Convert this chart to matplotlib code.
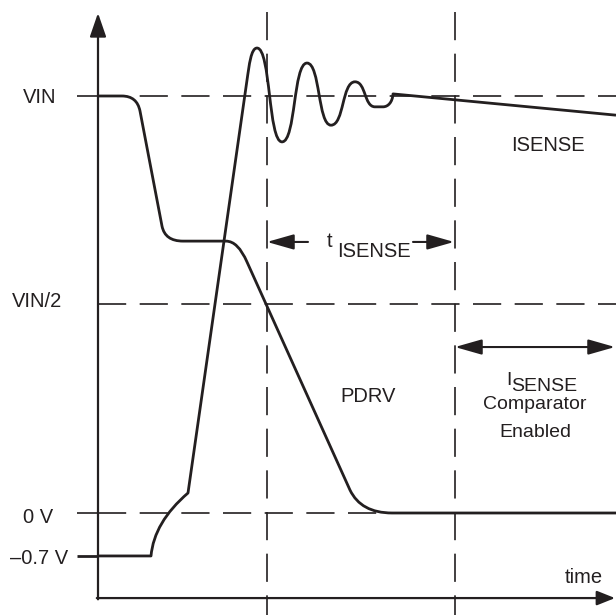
import matplotlib
matplotlib.use("Agg")
import matplotlib.pyplot as plt
from matplotlib.path import Path
from matplotlib.patches import PathPatch

plt.rcParams['lines.scale_dashes'] = False
plt.rcParams['font.family'] = ['Liberation Sans', 'DejaVu Sans']

INK = '#231f20'

# voltage levels (VIN = 1), time in arbitrary units from the y axis
levels = [1.0, 0.5, 0.0, -0.103]
level_labels = ['VIN', 'VIN/2', '0 V', '\u20130.7 V']
label_pos = [(-75, 0.983), (-86, 0.494), (-75, -0.023), (-88, -0.122)]
ticked = [True, False, True, True]

t_events = [169, 357]          # the two vertical markers
t_end = 518

# PDRV falling edge: vertices + path codes (M move, L line, Q quadratic)
pdrv_t = [0, 24, 39, 42, 64, 67, 85, 128, 140, 149, 252, 263, 294, 518]
pdrv_v = [1.0, 1.0, 1.0, 0.964, 0.688, 0.652, 0.652, 0.652, 0.652, 0.602,
          0.055, 0.0, 0.0, 0.0]
pdrv_codes = 'MLQQLQQLQQLQQL'

# ISENSE rising edge with ringing (C cubic)
isense_t = [0, 53, 56, 90, 149, 151.2, 153, 159,
            172.8, 170.2, 184, 197.8, 195.2, 209, 222.2, 219.8, 233,
            246.2, 243.8, 257, 268, 266, 277, 285,
            290, 294.5, 295, 518]
isense_v = [-0.103, -0.103, -0.022, 0.048, 1.038, 1.074, 1.115, 1.115,
            1.115, 0.890, 0.890, 0.890, 1.079, 1.079, 1.079, 0.930, 0.930,
            0.930, 1.034, 1.034, 1.034, 0.974, 0.974, 0.974,
            0.974, 0.985, 1.005, 0.954]
isense_codes = 'MLQQLCCCCCCCCCCCCCCCCCCLCCCL'

CODE = {'M': Path.MOVETO, 'L': Path.LINETO, 'Q': Path.CURVE3, 'C': Path.CURVE4}


def wave(ax, ts, vs, codes):
    path = Path(list(zip(ts, vs)), [CODE[c] for c in codes])
    ax.add_patch(PathPatch(path, fill=False, lw=2.0, ec=INK,
                           joinstyle='round', capstyle='butt', zorder=3))


def arrow(ax, tail, tip, style, hl, hw, lw=1.5):
    ax.annotate('', xy=tip, xytext=tail,
                arrowprops=dict(arrowstyle='%s,head_length=%s,head_width=%s' % (style, hl, hw),
                                mutation_scale=1, shrinkA=0, shrinkB=0,
                                lw=lw, color=INK), zorder=4)


fig = plt.figure(figsize=(6.16, 6.15), dpi=100)
ax = fig.add_axes([0, 0, 1, 1])
ax.set_xlim(-98, 518)
ax.set_ylim(-0.2446, 1.2302)
ax.axis('off')

dash = (0, (20.3, 9.7))

# horizontal reference lines
for lv, lab, pos, tk in zip(levels, level_labels, label_pos, ticked):
    if lv > -0.1:
        ax.plot([0, t_end], [lv, lv], ls=dash, lw=1.2, color=INK, zorder=1)
    if tk:
        ax.plot([-21, 0], [lv, lv], lw=2.0 if lv < 0 else 1.2, color=INK,
                solid_capstyle='butt', zorder=1)
    ax.text(pos[0], pos[1], lab, fontsize=14.5, color=INK, ha='left', va='baseline')

# vertical markers
for te in t_events:
    ax.plot([te, te], [1.2014, -0.2446], ls=dash, lw=1.2, color=INK, zorder=1)

# axes with arrows
y_axis = -0.204
arrow(ax, (0, y_axis - 0.003), (0, 1.199), '-|>', 14.5, 5.0, lw=1.6)
arrow(ax, (-1.2, y_axis), (t_end - 1, y_axis), '-|>', 11, 4.4, lw=1.6)

# waveforms
wave(ax, pdrv_t, pdrv_v, pdrv_codes)
wave(ax, isense_t, isense_v, isense_codes)

# t_ISENSE dimension arrows
arrow(ax, (210, 0.650), (t_events[0], 0.650), '-|>', 16.5, 4.7)
arrow(ax, (315, 0.650), (t_events[1] - 1, 0.650), '-|>', 16.5, 4.7)
ax.text(229, 0.639, 't', fontsize=14.5, color=INK, ha='left', va='baseline')
ax.text(239, 0.613, 'ISENSE', fontsize=14.5, color=INK, ha='left', va='baseline')

# comparator enabled window
arrow(ax, (t_events[1], 0.398), (t_end - 1, 0.398), '<|-|>', 16.5, 4.7)
ax.text(408, 0.307, 'I', fontsize=14, color=INK, ha='left', va='baseline')
ax.text(413, 0.293, 'SENSE', fontsize=14, color=INK, ha='left', va='baseline')
ax.text(437, 0.250, 'Comparator', fontsize=14, color=INK, ha='center', va='baseline')
ax.text(437, 0.182, 'Enabled', fontsize=14, color=INK, ha='center', va='baseline')

# signal names
ax.text(413, 0.867, 'ISENSE', fontsize=14.5, color=INK, ha='left', va='baseline')
ax.text(242, 0.267, 'PDRV', fontsize=14.5, color=INK, ha='left', va='baseline')
ax.text(467, -0.168, 'time', fontsize=14.5, color=INK, ha='left', va='baseline')

fig.savefig('out.png', dpi=100)
